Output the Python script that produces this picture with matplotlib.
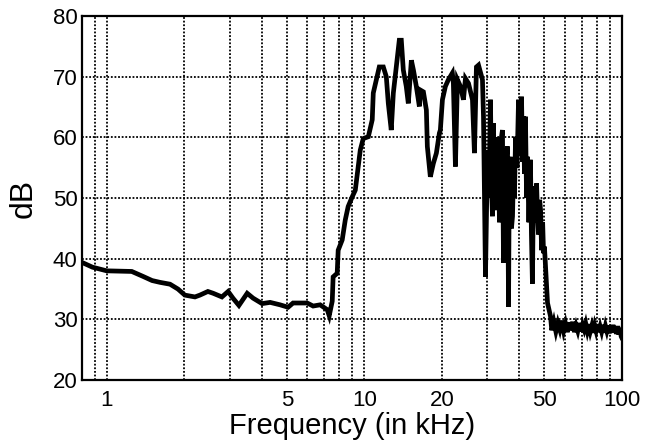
import matplotlib
matplotlib.use("Agg")
from matplotlib import pyplot as plt
from matplotlib.ticker import FixedLocator, NullFormatter

plt.rcParams['font.family'] = ['Liberation Sans', 'DejaVu Sans']

# spectrum: frequency (kHz) and level (dB)
freq_khz = [0.80, 0.88, 1.00, 1.25, 1.38, 1.50, 1.61, 1.76, 1.89, 2.01, 2.20,
            2.30, 2.47, 2.59, 2.80, 2.96, 3.09, 3.26, 3.51, 3.70, 4.01, 4.31,
            4.71, 5.06, 5.29, 6.00, 6.33, 6.74, 7.18, 7.31, 7.51, 7.57, 7.85,
            7.92, 8.21, 8.44, 8.66, 8.98, 9.23, 9.48, 9.65, 9.91, 10.37, 10.74,
            10.84, 11.14, 11.44, 11.86, 12.18, 12.40, 12.73, 12.97, 13.32,
            13.68, 13.93, 14.18, 14.56, 14.83, 15.24, 15.52, 15.93, 16.37,
            16.51, 16.97, 17.43, 17.58, 18.06, 18.55, 19.06, 19.58, 19.75,
            20.12, 20.66, 21.22, 21.99, 22.19, 22.60, 23.01, 23.64, 24.28,
            24.72, 25.40, 26.32, 26.79, 27.27, 27.78, 28.78, 29.05, 29.57,
            30.11, 30.5, 30.92, 31.2, 31.48, 31.77, 32.05, 32.34, 32.8, 33.21,
            33.5, 33.81, 34.1, 34.42, 34.74, 35.05, 35.37, 35.7, 36.01, 36.34,
            36.6, 36.99, 37.3, 37.66, 38.01, 38.3, 38.70, 39.2, 39.74, 40.3,
            40.81, 41.2, 41.53, 41.9, 42.28, 42.7, 43.04, 43.6, 44.20, 44.6,
            45.00, 45.4, 46.0, 46.70, 47.10, 47.5, 48.00, 48.4, 48.85, 49.3,
            49.70, 50.1, 50.60, 51.50, 52.90,
            53.5, 54.5, 55.5, 56.5, 57.5, 58.5, 59.5, 60.5, 61.5, 62.5, 63.5,
            64.5, 65.5, 66.5, 67.5, 68.5, 69.5, 70.5, 71.5, 72.5, 73.5, 74.5,
            75.5, 76.5, 77.5, 78.5, 79.5, 80.5, 81.5, 82.5, 83.5, 84.5, 85.5,
            86.5, 87.5, 88.5, 89.5, 90.5, 91.5, 92.5, 93.5, 94.5, 95.5, 96.5,
            97.5, 98.5, 99.5, 100.0]
level_db = [39.4, 38.6, 38.0, 37.9, 37.1, 36.4, 36.1, 35.8, 35.0, 34.0, 33.7,
            34.0, 34.6, 34.3, 33.7, 34.6, 33.5, 32.3, 34.3, 33.5, 32.6, 32.8,
            32.4, 32.0, 32.7, 32.7, 32.2, 32.4, 31.6, 30.6, 33.0, 37.0, 37.6,
            41.4, 43.1, 46.4, 48.6, 50.2, 51.3, 55.2, 57.9, 59.8, 60.1, 62.9,
            67.3, 69.5, 71.6, 71.6, 70.0, 65.6, 61.2, 67.3, 71.6,
            76.0, 76.0, 71.1, 68.4, 65.6, 72.7, 71.1, 68.4, 65.1,
            67.8, 67.5, 64.5, 58.5, 53.5, 55.7, 57.4, 60.7, 61.2,
            66.2, 68.4, 69.5, 70.6, 68.9, 55.2, 69.5, 68.4, 66.2,
            69.7, 68.9, 66.2, 57.4, 71.6, 71.9, 69.5, 63.4, 37.0,
            57.9, 50.0, 66.2, 52.0, 47.0, 62.3, 50.0, 48.0, 60.0, 57.9,
            46.0, 49.7, 60.0, 61.2, 39.3, 58.0, 41.4, 57.0, 58.5, 32.1,
            55.0, 56.8, 45.0, 47.0, 55.2, 50.0, 60.1, 55.0, 66.2, 57.0,
            66.7, 56.0, 63.4, 54.0, 63.4, 50.0, 56.8, 46.0, 56.3, 44.0,
            35.9, 51.9, 46.0, 52.4, 47.0, 44.0, 49.7, 48.0, 41.4, 46.0,
            40.9, 42.0, 38.7, 32.7, 30.5,
            28.2, 29.6, 28.0, 29.4, 28.3, 29.8, 28.1, 29.3, 27.9, 29.5, 28.2,
            29.6, 27.9, 29.0, 28.1, 29.4, 28.0, 29.1, 28.3, 29.3, 28.1, 29.2,
            28.0, 28.9, 27.8, 29.0, 28.1, 29.2, 27.9, 28.8, 28.0, 29.1, 27.8,
            28.9, 28.1, 29.0, 27.7, 28.8, 27.9, 29.1, 27.8, 28.7, 27.6, 28.9,
            27.5, 28.6, 27.2, 27.0]

x_ticks = [1, 5, 10, 20, 50, 100]
x_grid = [0.9, 2, 3, 4, 6, 7, 8, 9, 30, 40, 60, 70, 80, 90]
y_ticks = [20, 30, 40, 50, 60, 70, 80]

fig = plt.figure(figsize=(6.6, 4.44), dpi=100)
ax = fig.add_axes([0.124, 0.144, 0.818, 0.820])
ax.plot(freq_khz, level_db, color="black", lw=3.4, solid_joinstyle="miter")
ax.set_xscale("log")
ax.set_xlim(0.8, 100)
ax.set_ylim(20, 80)
ax.xaxis.set_major_locator(FixedLocator(x_ticks))
ax.xaxis.set_minor_locator(FixedLocator(x_grid))
ax.xaxis.set_minor_formatter(NullFormatter())
ax.set_xticklabels([str(t) for t in x_ticks])
ax.set_yticks(y_ticks)
ax.grid(which="both", color="black", linestyle=(0, (1, 1)), lw=1.3)
ax.tick_params(which="both", length=0, labelsize=16, pad=7)
ax.tick_params(axis="y", pad=3)
for s in ax.spines.values():
    s.set_linewidth(1.6)
ax.set_xlabel("Frequency (in kHz)", fontsize=21, labelpad=1)
ax.set_ylabel("dB", fontsize=23, labelpad=10)
plt.savefig("out.png", dpi=100)
